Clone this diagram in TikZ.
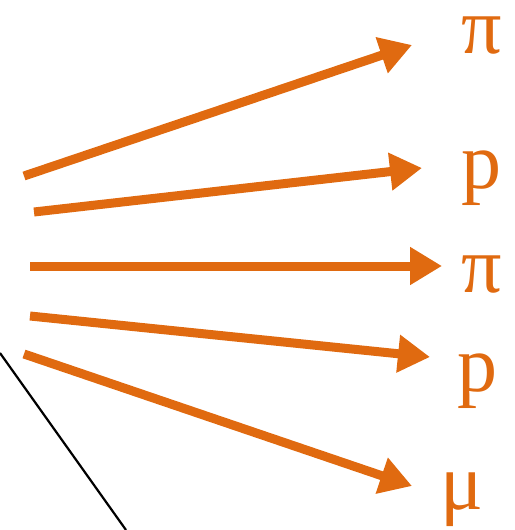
\documentclass[tikz,border=0pt]{standalone}
\usepackage{fontspec}
\setmainfont{Liberation Serif}
\usetikzlibrary{arrows.meta}
\definecolor{ptorange}{RGB}{224,106,16}
\begin{document}
\begin{tikzpicture}[x=1pt,y=-1pt,
  track/.style={draw=ptorange,line width=9pt,-{Triangle[length=32pt,width=36pt]}},
  plabel/.style={text=ptorange,font=\fontsize{80}{80}\selectfont,anchor=base,inner sep=0pt}]
\useasboundingbox (0,0) rectangle (514,530);
\coordinate (s1) at (24,176);  \coordinate (e1) at (412,45);
\coordinate (s2) at (34,212);  \coordinate (e2) at (422,168);
\coordinate (s3) at (30,266);  \coordinate (e3) at (442,266);
\coordinate (s4) at (30,316);  \coordinate (e4) at (430,357);
\coordinate (s5) at (24,354);  \coordinate (e5) at (412,486);
\coordinate (b1) at (0,353);   \coordinate (b2) at (126,530);
\node[plabel] (l1) at (482,53) {π};
\node[plabel] (l2) at (481,188) {p};
\node[plabel] (l3) at (482,292) {π};
\node[plabel] (l4) at (477,391) {p};
\node[plabel] (l5) at (462,509) {μ};
\draw[track] (s1) -- (e1);
\draw[track] (s2) -- (e2);
\draw[track] (s3) -- (e3);
\draw[track] (s4) -- (e4);
\draw[track] (s5) -- (e5);
\draw[black,line width=2.2pt] (b1) -- (b2);
\end{tikzpicture}
\end{document}
